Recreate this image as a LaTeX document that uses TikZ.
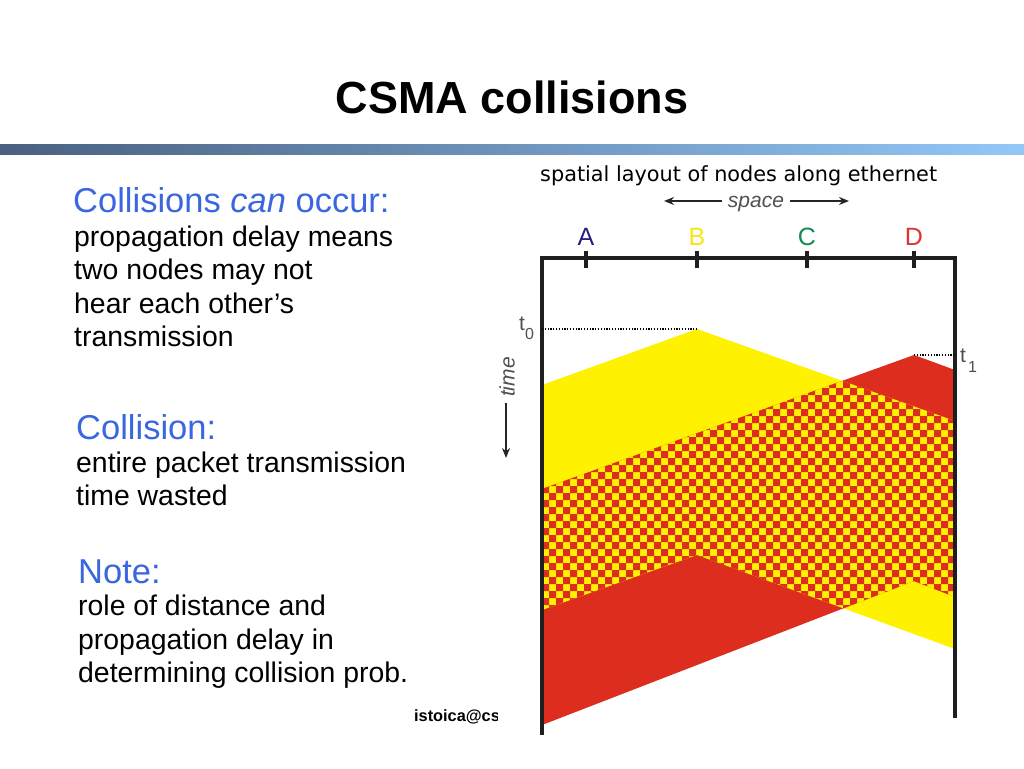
\documentclass[tikz,border=0pt]{standalone}
\usepackage{fontspec}
\setmainfont{Liberation Sans}
\newfontfamily\comicfont{DejaVu Sans}
\usetikzlibrary{arrows.meta}
\definecolor{hdrblue}{RGB}{58,102,224}
\definecolor{pyellow}{RGB}{255,242,0}
\definecolor{pred}{RGB}{220,45,30}
\definecolor{barleft}{RGB}{74,96,128}
\definecolor{barright}{RGB}{146,200,248}
\definecolor{lblA}{RGB}{40,30,130}
\definecolor{lblB}{RGB}{245,230,20}
\definecolor{lblC}{RGB}{20,140,80}
\definecolor{lblD}{RGB}{225,50,50}
\definecolor{framec}{RGB}{30,30,30}
\definecolor{grayt}{RGB}{80,80,80}
\tikzset{
  hdr/.style={anchor=base west, inner sep=0pt, text=hdrblue, font=\fontsize{34.5}{40}\selectfont},
  body/.style={anchor=base west, inner sep=0pt, text=black, font=\fontsize{28.4}{33}\selectfont},
  frameline/.style={draw=framec, line width=3.2pt},
  tickline/.style={draw=framec, line width=3.2pt},
  lbl/.style={anchor=base, inner sep=0pt, font=\fontsize{25}{28}\selectfont},
  dotline/.style={draw=black, line width=1.2pt, dash pattern=on 1.2pt off 1.6pt},
  axisarrow/.style={draw=black!85, line width=1.8pt, -{Stealth[length=10pt,width=8pt]}},
  tlbl/.style={inner sep=0pt, text=grayt, font=\fontsize{21}{24}\selectfont}
}
\begin{document}
\begin{tikzpicture}[x=1pt,y=-1pt]
\useasboundingbox (0,0) rectangle (1024,768);
\fill[white] (0,0) rectangle (1024,768);

% title and bar
\node[anchor=base, inner sep=0pt, font=\fontsize{45}{52}\selectfont\bfseries] (title) at (512,113) {CSMA collisions};
\shade[left color=barleft, right color=barright] (0,144) rectangle (1024,154);

% left text
\node[hdr] (h1) at (73,212) {Collisions \textit{can} occur:};
\node[body] (b11) at (74,246) {propagation delay means};
\node[body] (b12) at (74,279.5) {two nodes may not};
\node[body] (b13) at (74,313) {hear each other’s};
\node[body] (b14) at (74,346.5) {transmission};

\node[hdr] (h2) at (76,439) {Collision:};
\node[body] (b21) at (76,472) {entire packet transmission};
\node[body] (b22) at (76,505.5) {time wasted};

\node[hdr] (h3) at (78,583) {Note:};
\node[body] (b31) at (78,615.5) {role of distance and};
\node[body] (b32) at (78,649) {propagation delay in};
\node[body] (b33) at (78,682.5) {determining collision prob.};

\begin{scope}
  \clip (400,690) rectangle (497,740);
  \node[anchor=base west, inner sep=0pt, font=\fontsize{16.3}{18}\selectfont\bfseries] (foot) at (414,721) {istoica@cs.berkeley.edu};
\end{scope}

% diagram heading
\node[anchor=base west, inner sep=0pt, font=\comicfont\fontsize{20.8}{24}\selectfont] (spatial) at (540,181) {spatial layout of nodes along ethernet};
\node[tlbl, anchor=base, font=\fontsize{21}{24}\selectfont\itshape] (space) at (756,207) {space};
\coordinate (spL) at (664,201);
\coordinate (spR) at (849,201);
\draw[axisarrow] ([xshift=-6pt]space.west |- spL) -- (spL);
\draw[axisarrow] ([xshift=6pt]space.east |- spR) -- (spR);

\node[tlbl, rotate=90, font=\fontsize{21}{24}\selectfont\itshape] (time) at (507,377) {time};
\coordinate (tmB) at (506,458);
\draw[axisarrow] ([yshift=-6pt]time.west -| tmB) -- (tmB);

% yellow and red transmissions
\fill[pyellow] (542,385) -- (697,329) -- (955,421) -- (955,649) -- (697,555) -- (542,610) -- cycle;
\fill[pred] (542,489) -- (914,355) -- (955,370) -- (955,597) -- (914,581) -- (542,725) -- cycle;
\begin{scope}
  \clip (542,385) -- (697,329) -- (955,421) -- (955,649) -- (697,555) -- (542,610) -- cycle;
  \clip (542,489) -- (914,355) -- (955,370) -- (955,597) -- (914,581) -- (542,725) -- cycle;
  \fill[pyellow] (540,370) rectangle (960,670);
  \fill[pred] \foreach \i in {0,...,30} { \foreach \j in {0,...,21} {
      (542+14*\i,374+14*\j) rectangle ++(7,7)
      (549+14*\i,381+14*\j) rectangle ++(7,7) } };
\end{scope}

% frame
\coordinate (TL) at (542,258);
\coordinate (TR) at (955,258);
\coordinate (BL) at (542,733);
\coordinate (BR) at (955,716);
\draw[frameline, line cap=rect] (BL) -- (TL) -- (TR) -- (BR);

% ticks and labels
\foreach \n/\x/\c in {A/586/lblA, B/697/lblB, C/807/lblC, D/914/lblD} {
  \draw[tickline] (\x,251) -- (\x,268);
  \node[lbl, text=\c] (\n) at (\x,245.5) {\n};
}

% t0, t1
\coordinate (t0a) at (697,329);
\coordinate (t1a) at (914,355);
\draw[dotline] (TL |- t0a) -- (t0a);
\draw[dotline] (t1a) -- (TR |- t1a);
\node[anchor=base west, inner sep=0pt, text=grayt, font=\fontsize{21}{24}\selectfont] (t0) at (519,330) {t\raisebox{-9pt}{\fontsize{16}{18}\selectfont 0}};
\node[anchor=base west, inner sep=0pt, text=grayt, font=\fontsize{21}{24}\selectfont] (t1) at (960,362) {t\hspace{2pt}\raisebox{-10pt}{\fontsize{16}{18}\selectfont 1}};
\end{tikzpicture}
\end{document}
